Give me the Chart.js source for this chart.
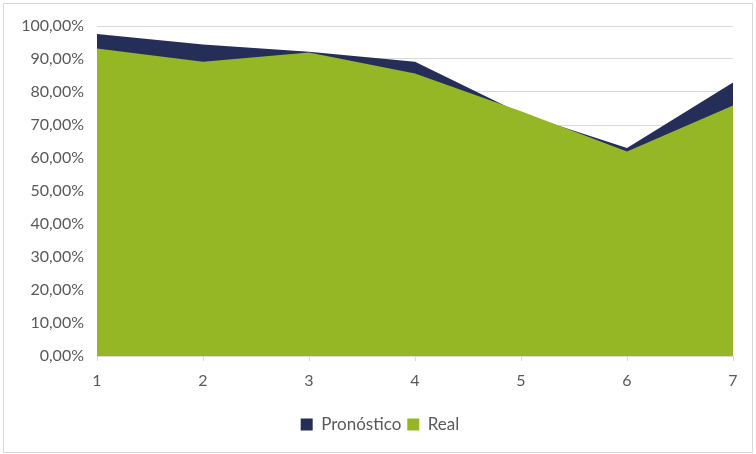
<!DOCTYPE html>
<html>
<head>
<meta charset="utf-8">
<script src="https://cdn.jsdelivr.net/npm/chart.js@4"></script>
<style>
  html, body { margin: 0; padding: 0; background: #fff; }
  #wrap { position: relative; width: 756px; height: 454px; }
  #frame { position: absolute; left: 3px; top: 3px; width: 748px; height: 448px;
           border: 1px solid #d9d9d9; pointer-events: none; }
  canvas { display: block; }
</style>
</head>
<body>
<div id="wrap">
  <canvas id="c" width="756" height="454"></canvas>
  <div id="frame"></div>
</div>
<script>
// Periods on the horizontal axis
const categories = ['1', '2', '3', '4', '5', '6', '7'];
// Forecast and actual values, in percent
const pronostico = [97.6, 94.4, 92.2, 89.2, 73.5, 63.0, 82.9];
const real = [93.2, 89.2, 92.0, 85.6, 74.2, 62.0, 75.9];

const NAVY = '#252d59';
const GREEN = '#95b625';
const TEXT = '#595959';
const GRID = '#d9d9d9';
const FONT = { family: 'Lato', size: 16 };
const LEGEND_FONT = { family: 'Lato', size: 17 };

// Center the legend on the whole canvas rather than on the padded layout box
const centerLegend = {
  id: 'centerLegend',
  afterLayout(chart) {
    if (chart.legend) {
      chart.legend.left = 4;
      chart.legend.right = chart.width;
    }
  }
};

new Chart(document.getElementById('c'), {
  type: 'line',
  data: {
    labels: categories,
    datasets: [
      // Real first so its area sits on top of the forecast area
      { label: 'Real', data: real, backgroundColor: GREEN, borderColor: GREEN,
        borderWidth: 0, fill: 'origin', pointRadius: 0, tension: 0 },
      { label: 'Pronóstico', data: pronostico, backgroundColor: NAVY, borderColor: NAVY,
        borderWidth: 0, fill: 'origin', pointRadius: 0, tension: 0 }
    ]
  },
  plugins: [centerLegend],
  options: {
    responsive: false,
    animation: false,
    layout: { padding: { left: 0, right: 23, top: 26, bottom: 11 } },
    plugins: {
      tooltip: { enabled: false },
      legend: {
        position: 'bottom',
        reverse: true,
        labels: {
          color: TEXT,
          font: LEGEND_FONT,
          boxWidth: 12,
          boxHeight: 12,
          padding: 6,
          generateLabels(chart) {
            return chart.data.datasets.map((ds, i) => ({
              text: ds.label,
              fillStyle: ds.backgroundColor,
              strokeStyle: ds.backgroundColor,
              lineWidth: 0,
              fontColor: TEXT,
              hidden: false,
              datasetIndex: i
            }));
          }
        }
      }
    },
    scales: {
      x: {
        type: 'category',
        offset: false,
        afterFit(scale) { scale.height = 54; },
        grid: { drawOnChartArea: false, color: GRID, tickLength: 5 },
        border: { color: GRID, width: 1 },
        ticks: { color: TEXT, font: FONT, padding: 10, maxRotation: 0 }
      },
      y: {
        min: 0,
        max: 100,
        afterFit(scale) { scale.width = 97; },
        grid: { color: GRID, drawTicks: false },
        border: { display: false },
        ticks: {
          color: TEXT, font: FONT, padding: 13, stepSize: 10,
          callback: v => v.toFixed(2).replace('.', ',') + '%'
        }
      }
    }
  }
});
</script>
</body>
</html>
